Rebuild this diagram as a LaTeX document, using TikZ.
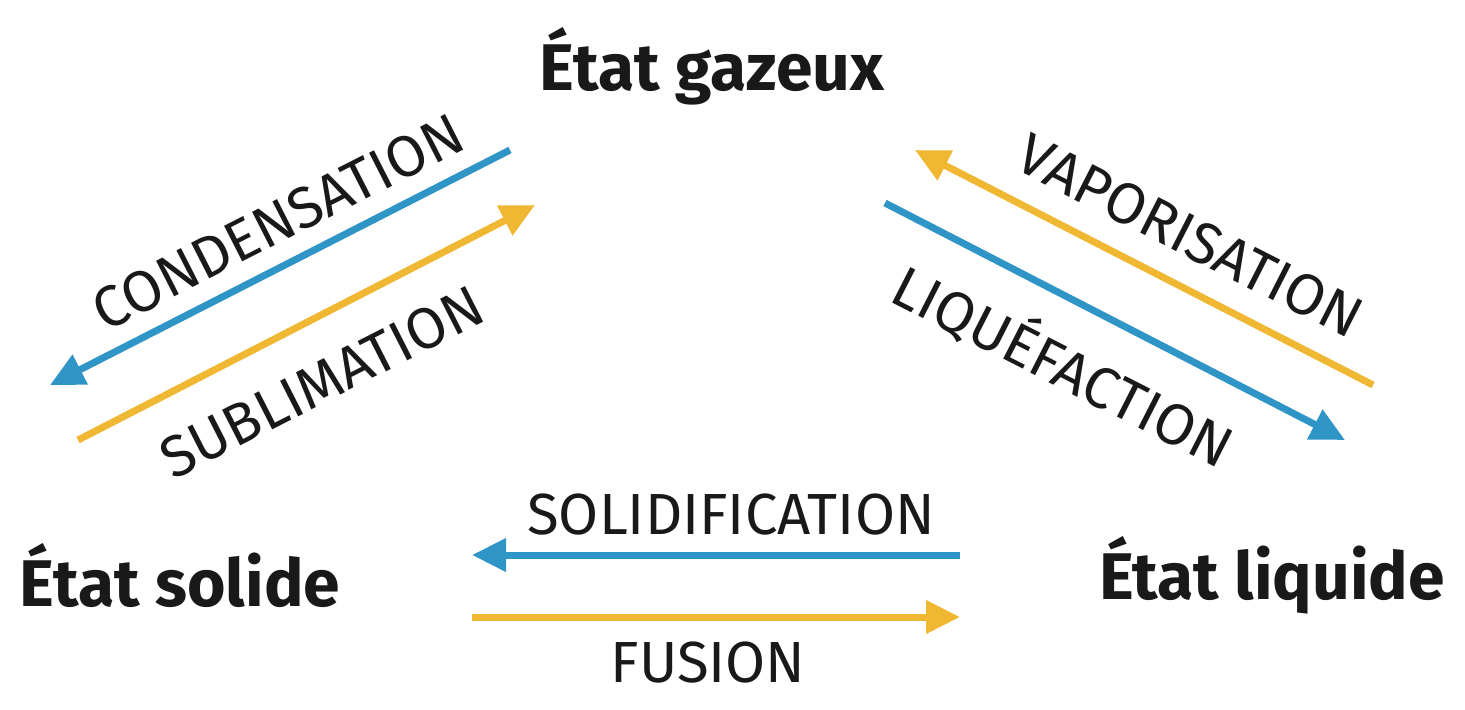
\documentclass[tikz,border=0pt]{standalone}
\usepackage{fontspec}
\setmainfont{Fira Sans}
\usetikzlibrary{arrows.meta}
\definecolor{bleu}{HTML}{2F95C6}
\definecolor{jaune}{HTML}{F0B732}
\tikzset{%
  etat/.style={font=\fontsize{33}{36}\selectfont\bfseries,text=black!90},
  proc/.style={font=\fontsize{29}{32}\selectfont,text=black!90},
  fl/.style={line width=3.5pt,-{Triangle[length=17pt,width=16pt]}}
}
\begin{document}
\begin{tikzpicture}[x=0.5pt,y=-0.5pt]
  \useasboundingbox (0,0) rectangle (1465,709);
  \node [etat] (gaz) at (712,66) {État gazeux};
  \node [etat] (sol) at (180,575) {État solide};
  \node [etat] (liq) at (1272,575) {État liquide};

  % sommets des fleches
  \coordinate (c1) at (510,150);  \coordinate (c2) at (50,385);
  \coordinate (s1) at (78,440);   \coordinate (s2) at (535,205);
  \coordinate (v1) at (1373,385); \coordinate (v2) at (915,150);
  \coordinate (l1) at (885,203);  \coordinate (l2) at (1345,440);
  \coordinate (d1) at (960,555);  \coordinate (d2) at (472,555);
  \coordinate (f1) at (472,617);  \coordinate (f2) at (960,617);

  \draw [fl,bleu] (c1) -- (c2);
  \draw [fl,jaune] (s1) -- (s2);
  \draw [fl,jaune] (v1) -- (v2);
  \draw [fl,bleu] (l1) -- (l2);
  \draw [fl,bleu] (d1) -- (d2);
  \draw [fl,jaune] (f1) -- (f2);

  \node [proc,rotate=27] (cond) at (278,222) {CONDENSATION};
  \node [proc,rotate=27] (subl) at (322,382) {SUBLIMATION};
  \node [proc,rotate=-27] (vap) at (1190,236) {VAPORISATION};
  \node [proc,rotate=-27] (liqf) at (1064,364) {LIQUÉFACTION};
  \node [proc] (solid) at (731,515) {SOLIDIFICATION};
  \node [proc] (fus) at (708,662) {FUSION};
\end{tikzpicture}
\end{document}
